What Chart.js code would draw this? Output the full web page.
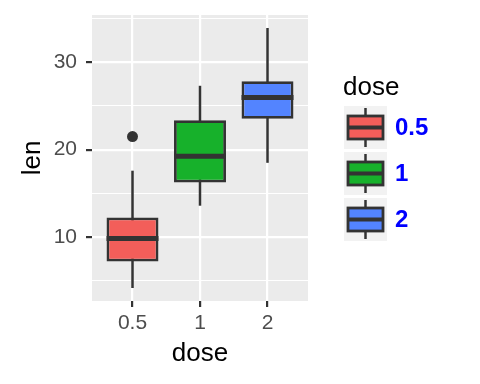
<!DOCTYPE html>
<html>
<head>
<meta charset="utf-8">
<script src="https://cdn.jsdelivr.net/npm/chart.js@4.4.1/dist/chart.umd.min.js"></script>
<style>
    html, body { margin: 0; padding: 0; background: #fff; }
</style>
</head>
<body>
<canvas id="chart" width="480" height="384"></canvas>
<script>
// Boxplot len ~ dose (ToothGrowth)
const doses = ['0.5', '1', '2'];
const dosePos = [1, 2, 3];
const lenMin = [4.2, 13.6, 18.5];
const lenQ1 = [7.225, 16.25, 23.525];
const lenMedian = [9.85, 19.25, 25.95];
const lenQ3 = [12.25, 23.375, 27.825];
const lenMax = [17.6, 27.3, 33.9];
const outlierPos = [1];
const outlierLen = [21.5];
const yTicks = [5, 10, 15, 20, 25, 30, 35];
const yLabels = [10, 20, 30];
const doseColors = ['#F35E5A', '#17B12B', '#5384FF'];

const INK = '#333333';

Chart.defaults.font.family = '"Liberation Sans", Arial, sans-serif';

// fundo cinza do painel
const panelBg = {
    id: 'panelBg',
    beforeDraw(chart) {
        const { ctx, chartArea: a } = chart;
        ctx.save();
        ctx.fillStyle = '#EBEBEB';
        ctx.fillRect(a.left, a.top, a.right - a.left, a.bottom - a.top);
        ctx.restore();
    }
};

// linha da mediana sobre cada caixa
const medianLines = {
    id: 'medianLines',
    afterDatasetsDraw(chart) {
        const ctx = chart.ctx;
        const meta = chart.getDatasetMeta(1);
        const y = chart.scales.y;
        ctx.save();
        ctx.strokeStyle = INK;
        ctx.lineWidth = 5;
        meta.data.forEach((bar, i) => {
            const p = bar.getProps(['x', 'width'], true);
            const py = y.getPixelForValue(lenMedian[i]);
            ctx.beginPath();
            ctx.moveTo(p.x - p.width / 2, py);
            ctx.lineTo(p.x + p.width / 2, py);
            ctx.stroke();
        });
        ctx.restore();
    }
};

// legenda no estilo ggplot
const doseLegend = {
    id: 'doseLegend',
    afterDraw(chart) {
        const ctx = chart.ctx;
        ctx.save();
        ctx.fillStyle = '#000';
        ctx.font = '26px "Liberation Sans", Arial, sans-serif';
        ctx.textBaseline = 'alphabetic';
        ctx.textAlign = 'left';
        ctx.fillText('dose', 343, 95);

        doses.forEach((d, i) => {
            const top = 106 + i * 46;
            ctx.fillStyle = '#F2F2F2';
            ctx.fillRect(344, top, 43, 43);

            ctx.strokeStyle = INK;
            ctx.lineWidth = 2.5;
            ctx.beginPath();
            ctx.moveTo(365.5, top + 2);
            ctx.lineTo(365.5, top + 41);
            ctx.stroke();

            ctx.fillStyle = doseColors[i];
            ctx.fillRect(348, top + 10, 35, 23);
            ctx.lineWidth = 2.8;
            ctx.strokeRect(348, top + 10, 35, 23);

            ctx.lineWidth = 4;
            ctx.beginPath();
            ctx.moveTo(348, top + 21.5);
            ctx.lineTo(383, top + 21.5);
            ctx.stroke();

            ctx.fillStyle = '#0000FF';
            ctx.font = 'bold 24px "Liberation Sans", Arial, sans-serif';
            ctx.textBaseline = 'middle';
            ctx.fillText(d, 395, top + 22);
            ctx.textBaseline = 'alphabetic';
        });
        ctx.restore();
    }
};

const config = {
    type: 'bar',
    data: {
        datasets: [{
            label: 'whisker',
            data: dosePos.map((x, i) => ({ x: x, y: [lenMin[i], lenMax[i]] })),
            backgroundColor: INK,
            borderWidth: 0,
            maxBarThickness: 2.5,
            grouped: false,
            order: 3
        }, {
            label: 'box',
            data: dosePos.map((x, i) => ({ x: x, y: [lenQ1[i], lenQ3[i]] })),
            backgroundColor: doseColors,
            borderColor: INK,
            borderWidth: 2.8,
            borderSkipped: false,
            categoryPercentage: 0.77,
            barPercentage: 1,
            grouped: false,
            order: 2
        }, {
            type: 'scatter',
            label: 'outlier',
            data: outlierPos.map((x, i) => ({ x: x, y: outlierLen[i] })),
            backgroundColor: INK,
            borderWidth: 0,
            pointRadius: 5.5,
            order: 1
        }]
    },
    options: {
        responsive: false,
        animation: false,
        layout: {
            padding: { top: 15, right: 172, left: 0, bottom: 0 }
        },
        plugins: {
            legend: { display: false },
            tooltip: { enabled: false }
        },
        scales: {
            x: {
                type: 'linear',
                min: 0.4,
                max: 3.6,
                offset: false,
                afterBuildTicks: s => { s.ticks = dosePos.map(v => ({ value: v })); },
                afterFit: s => {
                    s.height = 83;
                    s.paddingLeft = 0;
                    s.paddingRight = 0;
                },
                border: { display: false },
                grid: {
                    offset: false,
                    color: '#FFFFFF',
                    lineWidth: 2.2,
                    tickLength: 6,
                    tickColor: INK,
                    tickWidth: 2.2
                },
                ticks: {
                    padding: 4,
                    color: '#4D4D4D',
                    font: { size: 21 },
                    callback: (v, i) => doses[i]
                },
                title: {
                    display: true,
                    text: 'dose',
                    color: '#000',
                    font: { size: 26 },
                    padding: { top: 0, bottom: 15 }
                }
            },
            y: {
                min: 2.715,
                max: 35.385,
                bounds: 'data',
                afterBuildTicks: s => { s.ticks = yTicks.map(v => ({ value: v })); },
                afterFit: s => {
                    s.width = 92;
                    s.paddingTop = 0;
                    s.paddingBottom = 0;
                },
                border: { display: false },
                grid: {
                    color: '#FFFFFF',
                    lineWidth: c => (c.tick && yLabels.includes(c.tick.value)) ? 2.2 : 1.1,
                    tickLength: 6,
                    tickColor: c => (c.tick && yLabels.includes(c.tick.value)) ? INK : 'rgba(0,0,0,0)',
                    tickWidth: 2.2
                },
                ticks: {
                    padding: 9,
                    color: '#4D4D4D',
                    font: { size: 21 },
                    callback: v => yLabels.includes(v) ? String(v) : ''
                },
                title: {
                    display: true,
                    text: 'len',
                    color: '#000',
                    font: { size: 26 },
                    padding: { top: 17, bottom: 0 }
                }
            }
        }
    },
    plugins: [panelBg, medianLines, doseLegend]
};

new Chart(document.getElementById('chart'), config);
</script>
</body>
</html>
